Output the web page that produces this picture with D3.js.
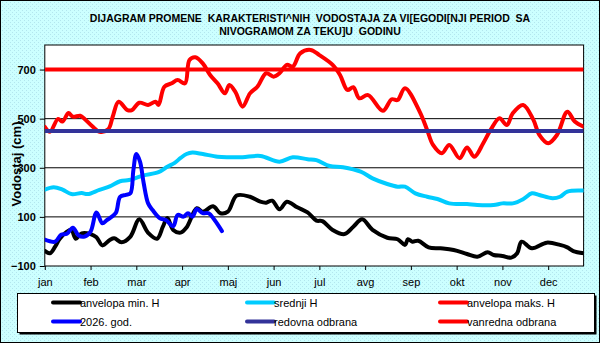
<!DOCTYPE html>
<html><head><meta charset="utf-8">
<script src="https://cdn.jsdelivr.net/npm/d3@7"></script>
<style>body{margin:0;padding:0;overflow:hidden}svg{display:block}text{font-family:Arial,"Liberation Sans",sans-serif}</style>
</head><body>
<script>
const titleLines = ["DIJAGRAM PROMENE  KARAKTERISTI^NIH  VODOSTAJA ZA VI[EGODI[NJI PERIOD  SA", "NIVOGRAMOM ZA TEKU]U  GODINU"];
const yLabel = "Vodostaj (cm)";
const months = ["jan","feb","mar","apr","maj","jun","jul","avg","sep","okt","nov","dec"];
const yTicks = [-100, 100, 300, 500, 700];

// anvelopa min. H
const minDays = [0,3.5,7,10,15,18,21,25,31,35,39,44,47,52,58,64,70,76,80,83,87,92,96,103,107,114,119,124,130,139,146,150,154,159,164,171,178,184,188,195,203,209,215,222,232,239,244,246,249,253,260,268,277,286,293,300,304,310,316,320,323,330,340,349,354,358,365];
const minVals = [-38,-48,-21,10,40,47,11,33,30,17,-16,6,13,-3,20,90,35,11,60,95,47,36,57,135,121,143,115,121,187,182,162,158,166,131,162,139,118,85,83,47,30,60,90,47,15,9,-14,9,-1,3,-24,-28,-35,-51,-62,-44,-55,-59,-66,-48,-1,-28,-5,-14,-24,-39,-48];

// srednji H
const avgDays = [0,6,12,18,25,29,37,44,51,57,61,67,77,83,88,92,96,100,107,117,125,134,146,159,168,178,184,193,202,214,222,232,239,244,251,259,266,274,286,293,304,310,317,324,330,335,344,349,354,365];
const avgVals = [211,221,211,193,197,193,210,224,245,250,257,269,282,304,320,340,356,362,356,345,343,343,348,325,343,335,331,307,302,284,257,234,223,223,196,182,173,155,152,148,148,155,155,172,196,189,176,182,203,207];

// anvelopa maks. H
const maxDays = [0,3.5,9,12,16,19,24,27,32,37,43,46,50,56,59,64,70,75,77,81,86,90,95,98,102,107,112,117,122,125,129,134,139,144,150,155,159,164,168,173,180,186,195,200,205,209,213,219,229,235,239,244,254,259,263,269,274,281,286,291,297,302,308,313,317,324,331,335,341,347,354,359,365];
const maxVals = [467,447,499,488,523,508,512,499,470,447,457,508,569,535,535,565,556,569,556,630,644,657,644,739,750,725,678,644,603,637,610,549,603,630,685,671,685,719,712,766,780,759,719,678,617,628,583,596,532,579,576,624,528,454,393,359,393,339,383,345,400,454,502,474,522,556,495,434,400,434,528,488,467];

// 2026. god.
const curDays = [0,7,11,15,19,23,27,31,35,39,42,48,51,55,58,60,62,64.5,67,70,73,78,82,87,90,94,97,100,103,107,111,115,120];
const curVals = [7,-1,27,31,56,24,20,40,118,74,87,115,182,190,196,290,356,325,237,155,128,94,87,62,108,101,115,101,132,115,115,87,42];

const redovna = 450;
const vanredna = 700;

const legendItems = [
  {label:"anvelopa min. H", color:"#000000"},
  {label:"srednji H", color:"#00CCFF"},
  {label:"anvelopa maks. H", color:"#FF0000"},
  {label:"2026. god.", color:"#0000FF"},
  {label:"redovna odbrana", color:"#333399"},
  {label:"vanredna odbrana", color:"#FF0000"}
];

const W = 600, H = 343;
const svg = d3.select("body").append("svg").attr("width", W).attr("height", H);
const defs = svg.append("defs");
const pat = defs.append("pattern").attr("id","bg").attr("width",4).attr("height",4).attr("patternUnits","userSpaceOnUse");
pat.append("rect").attr("width",4).attr("height",4).attr("fill","#CCFFFF");
pat.append("rect").attr("x",0).attr("y",0).attr("width",1).attr("height",1).attr("fill","#B3E6EE");
pat.append("rect").attr("x",2).attr("y",2).attr("width",1).attr("height",1).attr("fill","#B3E6EE");

svg.append("rect").attr("x",0.5).attr("y",0.5).attr("width",W-1).attr("height",H-1).attr("fill","url(#bg)").attr("stroke","#000").attr("stroke-width",1);

const L = 44.8, R = 583.6, T = 45, B = 266;
const x = d3.scaleLinear().domain([0,365]).range([L,R]);
const y = d3.scaleLinear().domain([-100,800]).range([B,T]);

svg.append("rect").attr("x",L).attr("y",T).attr("width",R-L).attr("height",B-T).attr("fill","#fff");

// title
svg.append("g").selectAll("text").data(titleLines).join("text")
  .attr("x",310).attr("y",(d,i)=>22+i*12.5).attr("text-anchor","middle")
  .style("white-space","pre").attr("font-size","10.5px").attr("font-weight","bold").text(d=>d);

// gridlines
svg.append("g").selectAll("line").data(yTicks.filter(v=>v>-100)).join("line")
  .attr("x1",L).attr("x2",R).attr("y1",d=>y(d)).attr("y2",d=>y(d)).attr("stroke","#000").attr("stroke-width",1);

// axes
const yAxis = d3.axisLeft(y).tickValues(yTicks).tickSize(5).tickPadding(4);
const gy = svg.append("g").attr("transform",`translate(${L},0)`).call(yAxis);
gy.selectAll("text").attr("font-size","11px").attr("font-weight","bold").attr("fill","#000").style("font-family","Arial, 'Liberation Sans', sans-serif");
gy.select(".domain").remove();

const xTickVals = months.map((m,i)=>i*31);
const xAxis = d3.axisBottom(x).tickValues(xTickVals).tickFormat((d,i)=>months[i]).tickSize(4).tickPadding(8);
const gx = svg.append("g").attr("transform",`translate(0,${B})`).call(xAxis);
gx.selectAll("text").attr("font-size","11px").attr("fill","#000").style("font-family","Arial, 'Liberation Sans', sans-serif");
gx.select(".domain").remove();

svg.append("rect").attr("x",L).attr("y",T).attr("width",R-L).attr("height",B-T).attr("fill","none").attr("stroke","#000").attr("stroke-width",1);

svg.append("text").attr("transform",`translate(21,164) rotate(-90)`).attr("text-anchor","middle")
  .attr("font-size","13px").attr("font-weight","bold").text(yLabel);

// series
const line = d3.line().x(d=>x(d[0])).y(d=>y(d[1])).curve(d3.curveCatmullRom.alpha(0.5));
const clip = defs.append("clipPath").attr("id","clip");
clip.append("rect").attr("x",L).attr("y",T-2).attr("width",R-L).attr("height",B-T+2);
const gs = svg.append("g").attr("clip-path","url(#clip)");
function drawSeries(days, vals, color){
  gs.append("path").datum(days.map((d,i)=>[d,vals[i]])).attr("d",line)
    .attr("fill","none").attr("stroke",color).attr("stroke-width",4).attr("stroke-linejoin","round").attr("stroke-linecap","round");
}
drawSeries(minDays, minVals, "#000000");
drawSeries(avgDays, avgVals, "#00CCFF");
drawSeries(maxDays, maxVals, "#FF0000");
drawSeries(curDays, curVals, "#0000FF");
gs.append("line").attr("x1",L).attr("x2",R).attr("y1",y(redovna)).attr("y2",y(redovna)).attr("stroke","#333399").attr("stroke-width",4);
gs.append("line").attr("x1",L).attr("x2",R).attr("y1",y(vanredna)).attr("y2",y(vanredna)).attr("stroke","#FF0000").attr("stroke-width",4);

// legend
const lg = svg.append("g");
lg.append("rect").attr("x",19.5).attr("y",295.5).attr("width",577).attr("height",39).attr("fill","#000");
lg.append("rect").attr("x",17.5).attr("y",293.5).attr("width",577).attr("height",39).attr("fill","#fff").attr("stroke","#000").attr("stroke-width",1);
const colX = [53, 247, 440];
const rowY = [302.5, 321.5];
legendItems.forEach((it,i)=>{
  const cx = colX[i%3], cy = rowY[Math.floor(i/3)];
  lg.append("line").attr("x1",cx).attr("x2",cx+27).attr("y1",cy).attr("y2",cy).attr("stroke",it.color).attr("stroke-width",4).attr("stroke-linecap","round");
  lg.append("text").attr("x",cx+27).attr("y",cy+4).attr("font-size","11px").text(it.label);
});
</script>
</body></html>
